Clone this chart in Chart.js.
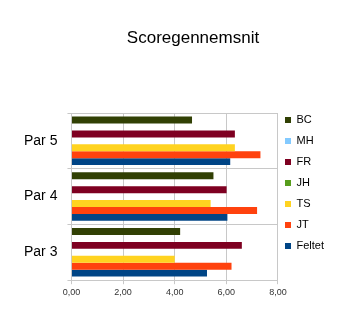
<!DOCTYPE html>
<html lang="da">
<head>
    <meta charset="UTF-8">
    <title>Scoregennemsnit</title>
    <style>
        html, body { margin: 0; padding: 0; background: #fff; }
        canvas { display: block; }
    </style>
</head>
<body>
    <canvas id="chart" width="351" height="310"></canvas>

    <script src="https://cdn.jsdelivr.net/npm/chart.js"></script>
    <script>
        // data
        const categories = ["Par 5", "Par 4", "Par 3"];
        const seriesNames = ["BC", "MH", "FR", "JH", "TS", "JT", "Feltet"];
        const bc = [4.67, 5.50, 4.21];
        const mh = [null, null, null];
        const fr = [6.33, 6.01, 6.60];
        const jh = [null, null, null];
        const ts = [6.33, 5.39, 4.00];
        const jt = [7.32, 7.19, 6.20];
        const feltet = [6.15, 6.04, 5.25];
        const xTicks = [0, 2, 4, 6, 8];

        const colors = ["#314004", "#83caff", "#7e0021", "#579d1c", "#ffd320", "#ff420e", "#004586"];
        const values = [bc, mh, fr, jh, ts, jt, feltet];

        const font = "'Liberation Sans', Arial, sans-serif";

        // title drawn a bit right of center, like the original
        const titlePlugin = {
            id: "sideTitle",
            afterDraw(chart) {
                const c = chart.ctx;
                c.save();
                c.font = "17px " + font;
                c.fillStyle = "#000";
                c.textAlign = "center";
                c.textBaseline = "middle";
                c.fillText("Scoregennemsnit", 193, 38);
                c.restore();
            }
        };

        // legend sits a bit higher than the plot centre
        const legendShift = {
            id: "legendShift",
            afterLayout(chart) {
                chart.legend.top -= 24;
                chart.legend.bottom -= 24;
                chart.legend.left -= 3;
                chart.legend.right -= 3;
            }
        };

        const ctx = document.getElementById("chart").getContext("2d");

        new Chart(ctx, {
            type: "bar",
            data: {
                labels: categories,
                datasets: seriesNames.map((name, i) => ({
                    label: name,
                    data: values[i],
                    backgroundColor: colors[i],
                    borderWidth: 0,
                    barPercentage: 1,
                    categoryPercentage: 0.87,
                })),
            },
            options: {
                indexAxis: "y",
                responsive: false,
                animation: false,
                layout: {
                    padding: { top: 113, left: 14, right: 14, bottom: 9 },
                },
                scales: {
                    x: {
                        min: 0,
                        max: 8,
                        afterBuildTicks: (axis) => {
                            axis.ticks = xTicks.map((v) => ({ value: v }));
                        },
                        grid: { color: "#c8c8c8", tickLength: 4 },
                        border: { color: "#c8c8c8" },
                        ticks: {
                            color: "#333",
                            font: { family: font, size: 9 },
                            padding: 3,
                            maxRotation: 0,
                            callback: (v) => v.toFixed(2).replace(".", ","),
                        },
                    },
                    y: {
                        grid: { color: "#c8c8c8", offset: true, tickLength: 4 },
                        border: { color: "#c8c8c8" },
                        ticks: {
                            color: "#000",
                            font: { family: font, size: 14 },
                            padding: 10,
                        },
                    },
                },
                plugins: {
                    title: { display: false },
                    tooltip: { enabled: false },
                    legend: {
                        position: "right",
                        labels: {
                            boxWidth: 6,
                            boxHeight: 6,
                            padding: 10,
                            color: "#000",
                            font: { family: font, size: 11 },
                        },
                    },
                },
            },
            plugins: [titlePlugin, legendShift],
        });
    </script>
</body>
</html>
